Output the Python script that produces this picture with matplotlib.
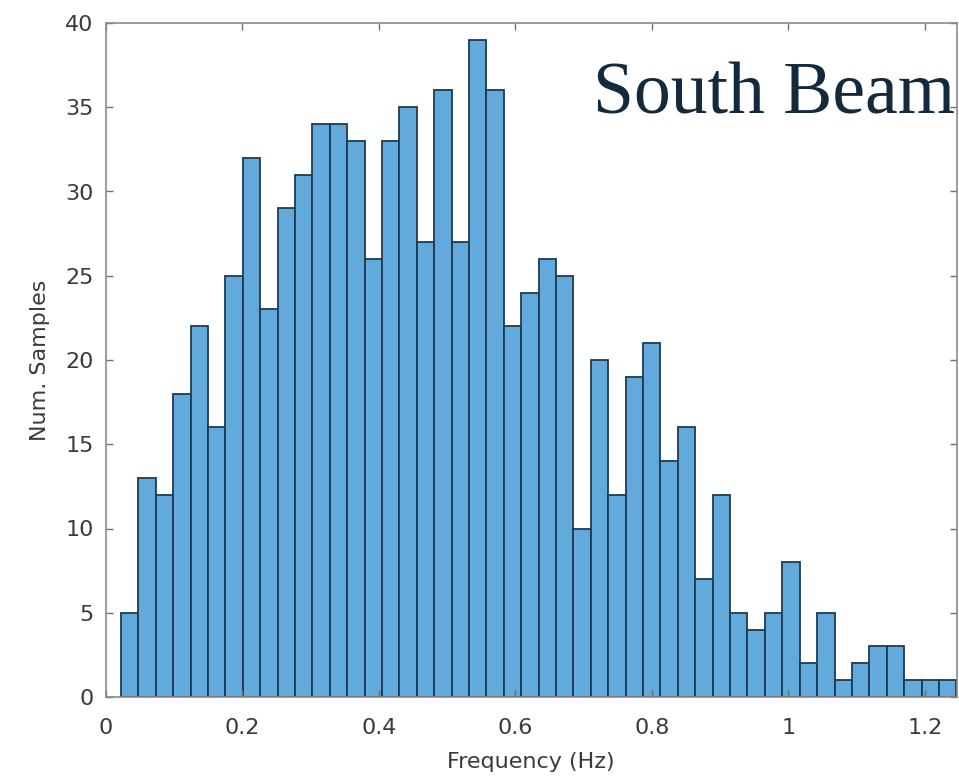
import matplotlib
matplotlib.use("Agg")
import matplotlib.pyplot as plt
import numpy as np

# Histogram data
bin_start = 0.022
bin_width = 0.0255
counts = [5, 13, 12, 18, 22, 16, 25, 32, 23, 29, 31, 34, 34, 33, 26, 33,
          35, 27, 36, 27, 39, 36, 22, 24, 26, 25, 10, 20, 12, 19, 21, 14,
          16, 7, 12, 5, 4, 5, 8, 2, 5, 1, 2, 3, 3, 1, 1, 1]
xticks = [0, 0.2, 0.4, 0.6, 0.8, 1.0, 1.2]
xtick_labels = ["0", "0.2", "0.4", "0.6", "0.8", "1", "1.2"]
yticks = [0, 5, 10, 15, 20, 25, 30, 35, 40]
xlabel = "Frequency (Hz)"
ylabel = "Num. Samples"
overlay = "South Beam"

W, H = 959, 777
fig = plt.figure(figsize=(W / 100, H / 100), dpi=100)
ax = fig.add_axes([106 / W, 1 - 697 / H, (957 - 106) / W, (697 - 23) / H])

edges = bin_start + bin_width * np.arange(len(counts) + 1)
ax.bar(edges[:-1], counts, width=bin_width, align="edge",
       color="#62a9dc", edgecolor="#1e3a52", linewidth=1.3)

ax.set_xlim(0, 1.247)
ax.set_ylim(0, 40)
ax.set_xticks(xticks)
ax.set_xticklabels(xtick_labels)
ax.set_yticks(yticks)

txt_color = "#3a3a3a"
ax.tick_params(direction="in", length=5, width=1, colors="#707070",
               labelcolor=txt_color, labelsize=16, top=True, right=True)
ax.tick_params(axis="x", pad=15)
ax.tick_params(axis="y", pad=9)
for s in ax.spines.values():
    s.set_color("#8a8a8a")
    s.set_linewidth(1.2)

fig.text(40 / W, 1 - 360 / H, ylabel, rotation=90, ha="center", va="center",
         fontsize=16, color=txt_color)
fig.text(531 / W, 1 - 752 / H, xlabel, ha="center", va="top",
         fontsize=16, color=txt_color)

fig.text(955 / W, 1 - 113 / H, overlay, ha="right", va="baseline",
         fontsize=53, family="Liberation Serif", color="#13293d")

fig.savefig("out.png", dpi=100)
